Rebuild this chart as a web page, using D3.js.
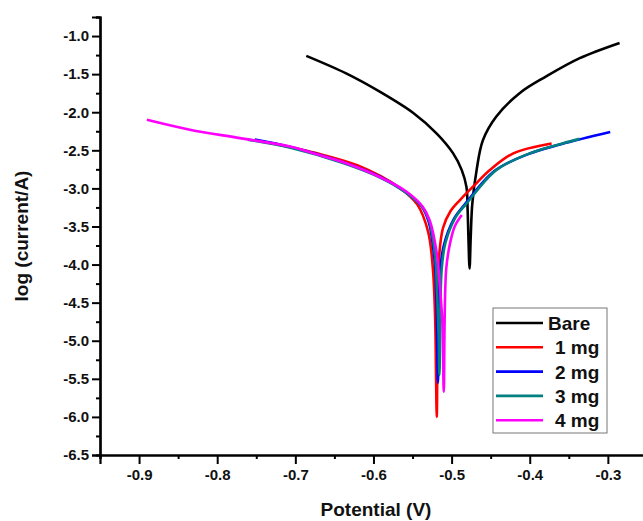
<!DOCTYPE html>
<html>
<head>
<meta charset="utf-8">
<script src="https://cdn.jsdelivr.net/npm/d3@7"></script>
<style>
  body { margin: 0; background: white; }
  svg { font-family: "Liberation Sans", Arial, sans-serif; }
</style>
</head>
<body>
<div id="chart"></div>
<script>
var width = 643
var height = 521

// Curve data: potential (V) and log(current/A)

var bareV   = [-0.686, -0.635, -0.592, -0.549, -0.519, -0.498, -0.487, -0.481, -0.4795, -0.4785, -0.477,
               -0.4755, -0.4735, -0.468, -0.460, -0.443, -0.413, -0.379, -0.336, -0.285]
var bareLog = [-1.26, -1.49, -1.73, -2.01, -2.28, -2.54, -2.76, -2.98, -3.28, -3.63, -4.05,
               -3.63, -3.20, -2.76, -2.37, -2.06, -1.75, -1.53, -1.29, -1.09]

var mg1V   = [-0.733, -0.676, -0.620, -0.567, -0.544, -0.530, -0.524, -0.521, -0.520, -0.519,
              -0.5175, -0.5156, -0.511, -0.5015, -0.489, -0.468, -0.451, -0.421, -0.372]
var mg1Log = [-2.40, -2.53, -2.70, -2.99, -3.21, -3.57, -4.05, -4.73, -5.38, -6.00,
              -4.51, -3.85, -3.52, -3.30, -3.15, -2.93, -2.76, -2.54, -2.41]

var mg2V   = [-0.752, -0.705, -0.638, -0.591, -0.560, -0.538, -0.529, -0.522, -0.5195, -0.5185, -0.5175,
              -0.5147, -0.510, -0.497, -0.483, -0.445, -0.402, -0.360, -0.297]
var mg2Log = [-2.36, -2.46, -2.66, -2.85, -3.04, -3.24, -3.45, -3.92, -4.45, -5.00, -5.55,
              -4.10, -3.75, -3.40, -3.21, -2.77, -2.55, -2.42, -2.26]

var mg3V   = [-0.761, -0.705, -0.638, -0.591, -0.559, -0.537, -0.528, -0.521, -0.5185, -0.5166, -0.5156,
              -0.5128, -0.508, -0.495, -0.481, -0.443, -0.400, -0.358, -0.336]
var mg3Log = [-2.36, -2.47, -2.67, -2.86, -3.05, -3.25, -3.45, -3.90, -4.40, -4.95, -5.45,
              -4.07, -3.72, -3.38, -3.20, -2.76, -2.54, -2.41, -2.35]

var mg4V   = [-0.890, -0.835, -0.771, -0.707, -0.677, -0.635, -0.592, -0.558, -0.537, -0.528,
              -0.519, -0.515, -0.512, -0.511, -0.510, -0.507, -0.502, -0.496, -0.487]
var mg4Log = [-2.10, -2.23, -2.34, -2.45, -2.54, -2.67, -2.85, -3.04, -3.24, -3.42,
              -3.85, -4.29, -4.73, -5.16, -5.67, -4.07, -3.72, -3.50, -3.35]

var seriesNames  = ["Bare", "1 mg", "2 mg", "3 mg", "4 mg"]
var seriesColors = ["#000000", "#ff0000", "#0000ff", "#008080", "#ff00ff"]
var seriesV   = [bareV, mg1V, mg2V, mg3V, mg4V]
var seriesLog = [bareLog, mg1Log, mg2Log, mg3Log, mg4Log]

var xTicks = [-0.9, -0.8, -0.7, -0.6, -0.5, -0.4, -0.3]
var xMinor = [-0.95, -0.85, -0.75, -0.65, -0.55, -0.45, -0.35, -0.25]
var yTicks = [-6.5, -6.0, -5.5, -5.0, -4.5, -4.0, -3.5, -3.0, -2.5, -2.0, -1.5, -1.0]
var yMinor = [-6.25, -5.75, -5.25, -4.75, -4.25, -3.75, -3.25, -2.75, -2.25, -1.75, -1.25, -0.75]

// Scales

var x_scale = d3.scaleLinear()
    .domain([-0.95, -0.2])
    .range([100, 686]);

var y_scale = d3.scaleLinear()
    .domain([-6.5, -0.75])
    .range([455, 17]);

var fmt = function(d){ return d.toFixed(1); }

var svg = d3.select("#chart")
    .append("svg")
    .attr("width", width)
    .attr("height", height)
    .style("background-color", "white")

// Curves

var line = d3.line()
    .x(function(d){ return x_scale(d[0]); })
    .y(function(d){ return y_scale(d[1]); })
    .curve(d3.curveCatmullRom.alpha(0.5))

seriesV.forEach(function(vs, i){
    var pts = vs.map(function(v, j){ return [v, seriesLog[i][j]]; })
    svg.append("path")
        .datum(pts)
        .attr("d", line)
        .attr("fill", "none")
        .attr("stroke", seriesColors[i])
        .attr("stroke-width", 2.6)
        .attr("stroke-linejoin", "round")
})

// Axes

var xAxis = d3.axisBottom(x_scale).tickValues(xTicks).tickFormat(fmt).tickSize(9).tickPadding(5)
var xAxisMinor = d3.axisBottom(x_scale).tickValues(xMinor).tickFormat("").tickSize(4)
var yAxis = d3.axisLeft(y_scale).tickValues(yTicks).tickFormat(fmt).tickSize(8).tickPadding(3)
var yAxisMinor = d3.axisLeft(y_scale).tickValues(yMinor).tickFormat("").tickSize(4)

svg.append("g")
    .attr("class", "x axis")
    .attr("transform", "translate(0," + 455 + ")")
    .call(xAxis);
svg.append("g")
    .attr("transform", "translate(0," + 455 + ")")
    .call(xAxisMinor);

svg.append("g")
    .attr("class", "y axis")
    .attr("transform", "translate(" + 100 + ",0)")
    .call(yAxis);
svg.append("g")
    .attr("transform", "translate(" + 100 + ",0)")
    .call(yAxisMinor);

svg.selectAll(".domain").attr("stroke", "#000").attr("stroke-width", 2.2)
svg.selectAll(".tick line").attr("stroke", "#000").attr("stroke-width", 2)
svg.selectAll(".tick text")
    .attr("fill", "#111")
    .style("font-size", "15px")
    .style("font-weight", "bold")
    .style("font-family", "'Liberation Sans', Arial, sans-serif")

// Axis titles

svg.append("text")
    .attr("x", 376)
    .attr("y", 516)
    .attr("text-anchor", "middle")
    .style("font-size", "19px")
    .style("font-weight", "bold")
    .attr("fill", "#111")
    .text("Potential (V)")

svg.append("text")
    .attr("transform", "translate(28,236) rotate(-90)")
    .attr("text-anchor", "middle")
    .style("font-size", "19px")
    .style("font-weight", "bold")
    .attr("fill", "#111")
    .text("log (current/A)")

// Legend

var legend = svg.append("g").attr("transform", "translate(493,308)")
legend.append("rect")
    .attr("width", 114)
    .attr("height", 125)
    .attr("fill", "white")
    .attr("stroke", "#777")
    .attr("stroke-width", 1)

seriesNames.forEach(function(name, i){
    var yy = 15 + i * 24.3
    legend.append("line")
        .attr("x1", 3).attr("x2", 50)
        .attr("y1", yy).attr("y2", yy)
        .attr("stroke", seriesColors[i])
        .attr("stroke-width", 2.6)
    legend.append("text")
        .attr("x", i == 0 ? 55 : 62)
        .attr("y", yy + 7)
        .style("font-size", "19px")
        .style("font-weight", "bold")
        .attr("fill", "#111")
        .text(name)
})
</script>
</body>
</html>
